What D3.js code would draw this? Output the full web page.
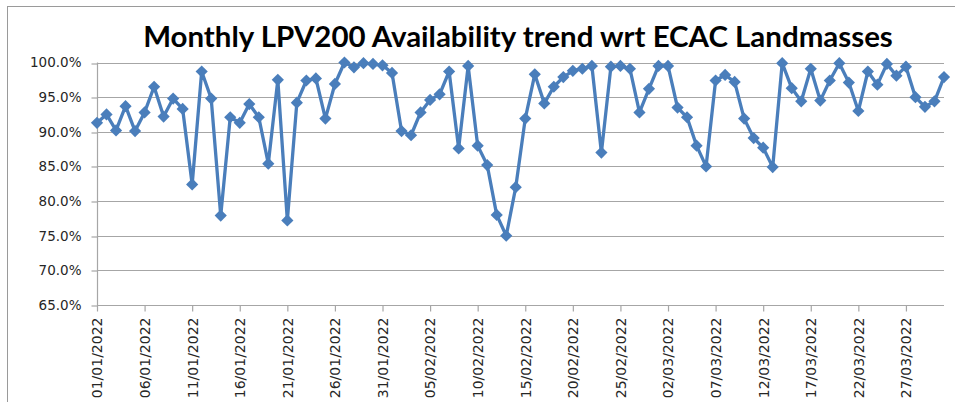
<!DOCTYPE html>
<html>
<head>
<meta charset="utf-8">
<script src="https://cdn.jsdelivr.net/npm/d3@7/dist/d3.min.js"></script>
<style>
  html, body { margin: 0; padding: 0; background: #fff; overflow: hidden; }
  svg { display: block; }
</style>
</head>
<body>
<svg id="chart" width="955" height="402"></svg>
<script>
// ---- data ----
const chartTitle = "Monthly LPV200 Availability trend wrt ECAC Landmasses";
const dates = [
  "01/01/2022","02/01/2022","03/01/2022","04/01/2022","05/01/2022","06/01/2022","07/01/2022","08/01/2022","09/01/2022","10/01/2022",
  "11/01/2022","12/01/2022","13/01/2022","14/01/2022","15/01/2022","16/01/2022","17/01/2022","18/01/2022","19/01/2022","20/01/2022",
  "21/01/2022","22/01/2022","23/01/2022","24/01/2022","25/01/2022","26/01/2022","27/01/2022","28/01/2022","29/01/2022","30/01/2022",
  "31/01/2022","01/02/2022","02/02/2022","03/02/2022","04/02/2022","05/02/2022","06/02/2022","07/02/2022","08/02/2022","09/02/2022",
  "10/02/2022","11/02/2022","12/02/2022","13/02/2022","14/02/2022","15/02/2022","16/02/2022","17/02/2022","18/02/2022","19/02/2022",
  "20/02/2022","21/02/2022","22/02/2022","23/02/2022","24/02/2022","25/02/2022","26/02/2022","27/02/2022","28/02/2022","01/03/2022",
  "02/03/2022","03/03/2022","04/03/2022","05/03/2022","06/03/2022","07/03/2022","08/03/2022","09/03/2022","10/03/2022","11/03/2022",
  "12/03/2022","13/03/2022","14/03/2022","15/03/2022","16/03/2022","17/03/2022","18/03/2022","19/03/2022","20/03/2022","21/03/2022",
  "22/03/2022","23/03/2022","24/03/2022","25/03/2022","26/03/2022","27/03/2022","28/03/2022","29/03/2022","30/03/2022","31/03/2022"
];
const availability = [
  91.3, 92.5, 90.2, 93.7, 90.1, 92.8, 96.5, 92.2, 94.8, 93.3,
  82.4, 98.7, 94.8, 77.9, 92.1, 91.3, 94.0, 92.1, 85.4, 97.5,
  77.2, 94.2, 97.4, 97.7, 91.9, 96.9, 100.0, 99.3, 99.9, 99.8,
  99.6, 98.5, 90.1, 89.5, 92.8, 94.6, 95.4, 98.7, 87.6, 99.5,
  88.0, 85.2, 78.0, 75.0, 82.0, 91.9, 98.3, 94.1, 96.5, 97.9,
  98.8, 99.1, 99.5, 87.0, 99.4, 99.5, 99.1, 92.8, 96.2, 99.5,
  99.5, 93.5, 92.1, 88.0, 85.0, 97.4, 98.2, 97.2, 91.9, 89.1,
  87.7, 84.9, 99.9, 96.3, 94.4, 99.1, 94.5, 97.4, 99.9, 97.1,
  93.0, 98.7, 96.8, 99.8, 98.1, 99.4, 95.0, 93.6, 94.4, 97.9
];
const xTickLabels = [
  "01/01/2022","06/01/2022","11/01/2022","16/01/2022","21/01/2022","26/01/2022",
  "31/01/2022","05/02/2022","10/02/2022","15/02/2022","20/02/2022","25/02/2022",
  "02/03/2022","07/03/2022","12/03/2022","17/03/2022","22/03/2022","27/03/2022"
];
const yTicks = [65, 70, 75, 80, 85, 90, 95, 100];

// ---- layout ----
const svg = d3.select("#chart");
const plot = { left: 97, right: 944, top: 62.5, bottom: 305 };
const lineColor = "#4a7ebb";
const gridColor = "#a6a6a6";
const labelFont = "'DejaVu Sans', Verdana, sans-serif";

// outer chart border
svg.append("rect")
  .attr("x", 7.5).attr("y", 6.5)
  .attr("width", 1000).attr("height", 500)
  .attr("fill", "none").attr("stroke", "#9a9a9a").attr("stroke-width", 1);

const x = d3.scalePoint().domain(dates).range([plot.left, plot.right]);
const y = d3.scaleLinear().domain([65, 100]).range([plot.bottom, plot.top]);

// gridlines
svg.append("g")
  .selectAll("line")
  .data(yTicks.filter(d => d > 65))
  .join("line")
  .attr("x1", plot.left).attr("x2", plot.right)
  .attr("y1", d => Math.round(y(d)) + 0.5).attr("y2", d => Math.round(y(d)) + 0.5)
  .attr("stroke", gridColor).attr("stroke-width", 1.2);

// y axis
const yAxis = d3.axisLeft(y)
  .tickValues(yTicks)
  .tickSize(6)
  .tickPadding(10)
  .tickFormat(d => d.toFixed(1) + "%");
const gy = svg.append("g")
  .attr("transform", `translate(${Math.round(plot.left) + 0.5},0)`)
  .call(yAxis);
gy.select(".domain").attr("stroke", gridColor).attr("stroke-width", 1.2)
  .attr("d", `M0,${plot.top}V${plot.bottom}`);
gy.selectAll(".tick line").attr("stroke", gridColor).attr("stroke-width", 1.2)
  .attr("transform", d => `translate(0,${Math.round(y(d)) + 0.5 - y(d)})`);
gy.selectAll(".tick text")
  .attr("font-family", labelFont).attr("font-size", 13.5)
  .attr("fill", "#262626");

// x axis
const xAxis = d3.axisBottom(x)
  .tickValues(xTickLabels)
  .tickSize(6)
  .tickPadding(5);
const gx = svg.append("g")
  .attr("transform", `translate(0,${Math.round(plot.bottom) + 0.5})`)
  .call(xAxis);
gx.select(".domain").attr("stroke", gridColor).attr("stroke-width", 1.2)
  .attr("d", `M${plot.left},0H${plot.right}`);
gx.selectAll(".tick line").attr("stroke", gridColor).attr("stroke-width", 1.2);
gx.selectAll(".tick text")
  .attr("font-family", labelFont).attr("font-size", 14)
  .attr("fill", "#262626")
  .attr("text-anchor", "end")
  .attr("dy", "0.35em")
  .attr("transform", "translate(0,12) rotate(-90)")
  .attr("x", 0).attr("y", 0);

// line
const pts = dates.map((d, i) => ({ d, v: availability[i] }));
svg.append("path")
  .datum(pts)
  .attr("fill", "none")
  .attr("stroke", lineColor)
  .attr("stroke-width", 3.3)
  .attr("stroke-linejoin", "round")
  .attr("d", d3.line().x(p => x(p.d)).y(p => y(p.v)));

// diamond markers
const diamond = d3.symbol().type(d3.symbolDiamond2).size(95);
svg.append("g")
  .selectAll("path")
  .data(pts)
  .join("path")
  .attr("d", diamond)
  .attr("transform", p => `translate(${x(p.d)},${y(p.v)})`)
  .attr("fill", lineColor);

// title
const title = svg.append("text")
  .attr("x", 518).attr("y", 47)
  .attr("text-anchor", "middle")
  .attr("font-family", "Lato, 'Open Sans', sans-serif")
  .attr("font-weight", "bold")
  .attr("font-size", 27)
  .attr("fill", "#000")
  .text(chartTitle);
const tw = title.node().getComputedTextLength();
title.attr("font-size", 27 * 750 / tw);
</script>
</body>
</html>
